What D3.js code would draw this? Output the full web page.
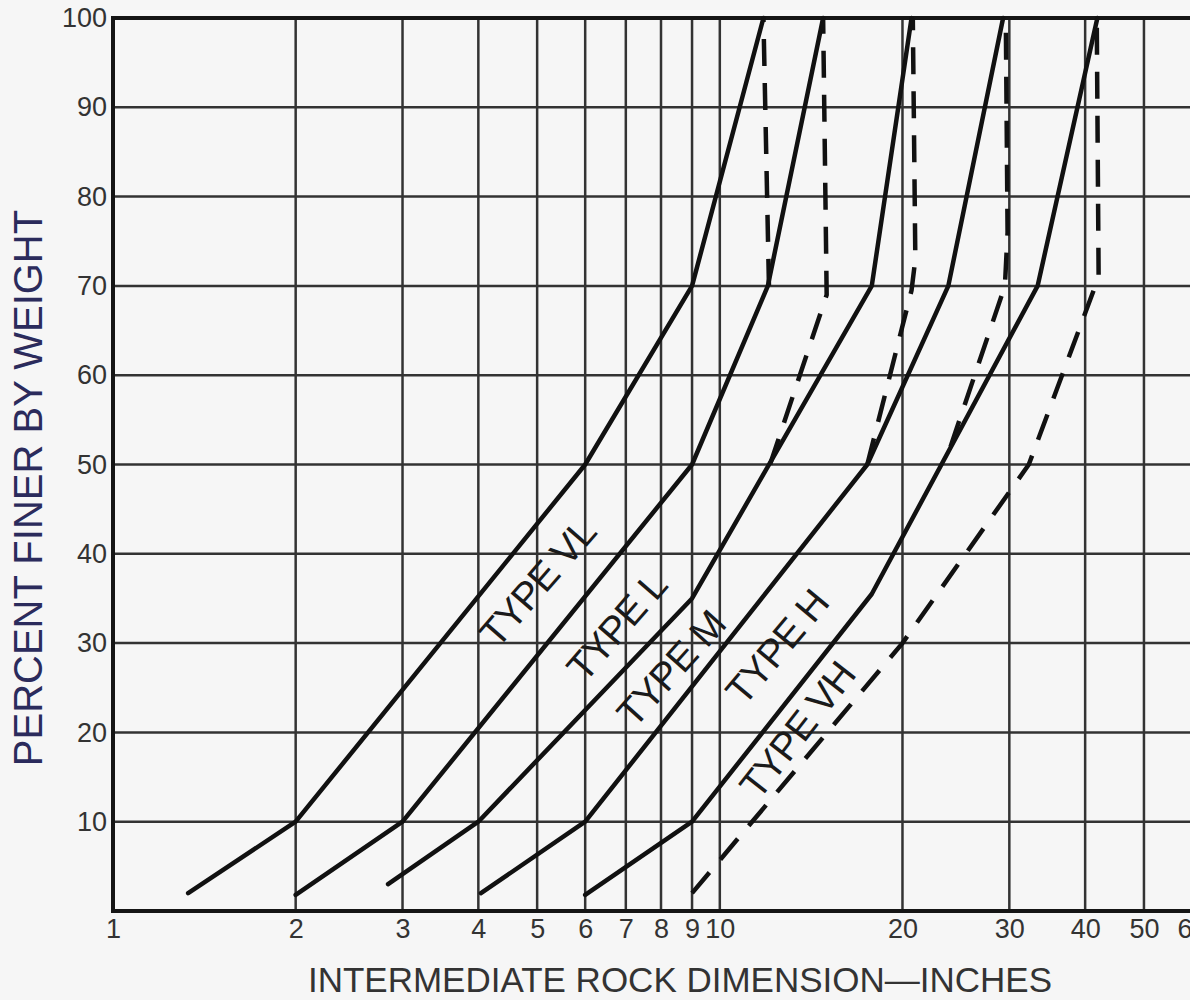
<!DOCTYPE html>
<html>
<head>
<meta charset="utf-8">
<script src="https://cdn.jsdelivr.net/npm/d3@7/dist/d3.min.js"></script>
<style>
  body { margin: 0; background: #f6f6f6; }
  svg { display: block; font-family: "Liberation Sans", Arial, sans-serif; }
</style>
</head>
<body>
<svg id="chart" width="1190" height="1000"></svg>
<script>
// tick values (rock size in inches on a log scale, percent finer)
const xTicks = [1, 2, 3, 4, 5, 6, 7, 8, 9, 10, 20, 30, 40, 50, 60];
const yTicks = [10, 20, 30, 40, 50, 60, 70, 80, 90, 100];

// solid curves: lower limit of each gradation [inches, percent]
const typeVL = [[1.33, 2], [2, 10], [6, 50], [9, 70], [11.8, 100]];
const typeL  = [[2, 1.8], [3, 10], [9, 50], [12, 70], [14.8, 100]];
const typeM  = [[2.84, 3], [4, 10], [9, 35], [17.8, 70], [20.7, 100]];
const typeH  = [[4.04, 2], [6, 10], [17.5, 50], [23.8, 70], [29.3, 100]];
const typeVH = [[6, 1.8], [9, 10], [17.8, 35.5], [33.4, 70], [41.9, 100]];

// dashed curves: upper limit, only the part that leaves the next solid curve
const dashVL = [[12.05, 70], [11.8, 100]];
const dashL  = [[12.1, 50], [15.0, 69], [14.8, 100]];
const dashM  = [[17.5, 50], [20.7, 69.5], [21.0, 73], [20.8, 100]];
const dashH  = [[24, 52], [29.5, 70], [29.8, 76], [29.6, 100]];
const dashVH = [[9, 2], [20, 30], [32.3, 50], [42.1, 71], [41.8, 100]];

// curve labels, their anchor point [inches, percent] and angle
const labelNames = ["TYPE VL", "TYPE L", "TYPE M", "TYPE H", "TYPE VH"];
const labelPos = [[5.0, 36.8], [6.75, 31.9], [8.3, 27.2], [12.4, 29.6], [13.4, 20.3]];
const labelAngle = [-49, -49, -48, -50, -52];

const svg = d3.select("#chart");

const x = d3.scaleLog().domain([1, 60]).range([113, 1192]);
const y = d3.scaleLinear().domain([0, 100]).range([911, 18]);

// grid
svg.append("g")
    .selectAll("line")
    .data(xTicks.slice(1))
    .enter()
    .append("line")
    .attr("x1", d => x(d))
    .attr("x2", d => x(d))
    .attr("y1", y(0))
    .attr("y2", y(100))
    .style("stroke", "#333")
    .style("stroke-width", 2.5);

svg.append("g")
    .selectAll("line")
    .data(yTicks)
    .enter()
    .append("line")
    .attr("x1", x(1))
    .attr("x2", x(60))
    .attr("y1", d => y(d))
    .attr("y2", d => y(d))
    .style("stroke", "#333")
    .style("stroke-width", 2.5);

// frame
svg.append("rect")
    .attr("x", x(1))
    .attr("y", y(100))
    .attr("width", x(60) - x(1))
    .attr("height", y(0) - y(100))
    .style("fill", "none")
    .style("stroke", "#151515")
    .style("stroke-width", 4);

// tick labels
const gx = svg.append("g")
    .attr("transform", `translate(0,${y(0)})`)
    .call(d3.axisBottom(x).tickValues(xTicks).tickSize(0).tickPadding(8).tickFormat(d3.format("d")));
gx.select(".domain").remove();

const gy = svg.append("g")
    .attr("transform", `translate(${x(1)},0)`)
    .call(d3.axisLeft(y).tickValues(yTicks).tickSize(0).tickPadding(6).tickFormat(d3.format("d")));
gy.select(".domain").remove();

svg.selectAll(".tick text")
    .style("font-family", "'Liberation Sans', Arial, sans-serif")
    .style("font-size", "27px")
    .style("fill", "#333");

// curves
const line = d3.line()
    .x(d => x(d[0]))
    .y(d => y(d[1]));

[typeVL, typeL, typeM, typeH, typeVH].forEach(c => {
    svg.append("path")
        .attr("d", line(c))
        .style("fill", "none")
        .style("stroke", "#111")
        .style("stroke-width", 4.5)
        .style("stroke-linejoin", "round")
        .style("stroke-linecap", "round");
});

[dashVL, dashL, dashM, dashH, dashVH].forEach(c => {
    svg.append("path")
        .attr("d", line(c))
        .style("fill", "none")
        .style("stroke", "#111")
        .style("stroke-width", 4.5)
        .style("stroke-dasharray", "27,17");
});

// curve labels
svg.append("g")
    .selectAll("text")
    .data(labelNames)
    .enter()
    .append("text")
    .attr("transform", (d, i) => `translate(${x(labelPos[i][0])},${y(labelPos[i][1])}) rotate(${labelAngle[i]})`)
    .attr("text-anchor", "middle")
    .attr("dy", "0.36em")
    .style("font-size", "39px")
    .style("letter-spacing", "-1px")
    .style("fill", "#1a1a1a")
    .text(d => d);

// axis titles
svg.append("text")
    .attr("x", 680)
    .attr("y", 992)
    .attr("text-anchor", "middle")
    .style("font-size", "35px")
    .style("fill", "#333")
    .text("INTERMEDIATE ROCK DIMENSION\u2014INCHES");

svg.append("text")
    .attr("transform", "translate(42,488) rotate(-90)")
    .attr("text-anchor", "middle")
    .style("font-size", "40px")
    .style("fill", "#2b2b5c")
    .text("PERCENT FINER BY WEIGHT");
</script>
</body>
</html>
